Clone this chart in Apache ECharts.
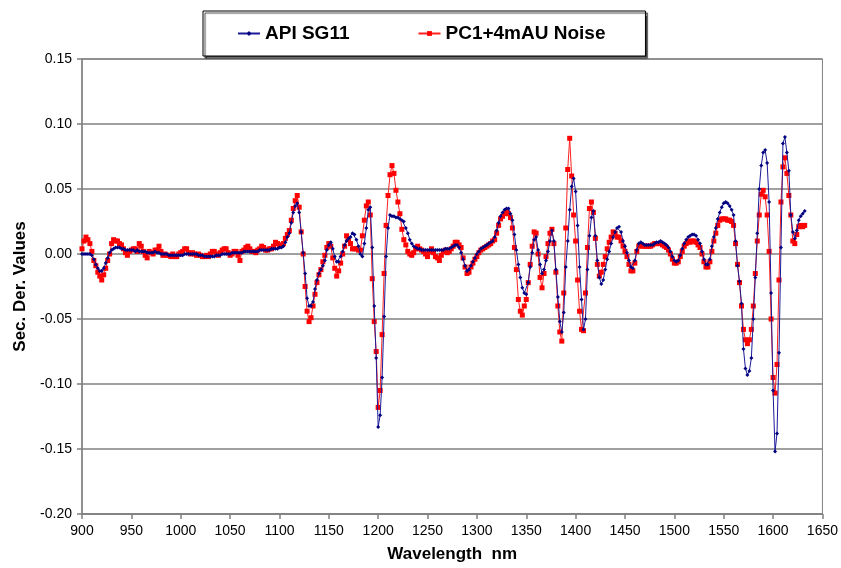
<!DOCTYPE html>
<html>
<head>
<meta charset="utf-8">
<script src="https://cdn.jsdelivr.net/npm/echarts@6/dist/echarts.min.js"></script>
<style>
html,body{margin:0;padding:0;background:#fff;}
#chart{width:841px;height:568px;}
</style>
</head>
<body>
<div id="chart"></div>
<script>
// Wavelength grid (nm), 2 nm steps from 900 to 1632
const wlStart = 900, wlStep = 2, wlCount = 367;
const wavelengths = Array.from({length: wlCount}, (_, i) => wlStart + wlStep * i);

const seriesNames = ['API SG11', 'PC1+4mAU Noise'];

// API SG11 second-derivative values
const apiSG11 = [
 0.000,0.000,0.000,0.000,0.000,-0.001,-0.004,-0.008,-0.011,-0.013,
 -0.013,-0.011,-0.007,-0.003,0.001,0.003,0.004,0.005,0.005,0.005,
 0.004,0.004,0.003,0.003,0.003,0.003,0.003,0.002,0.003,0.002,
 0.002,0.002,0.002,0.001,0.001,0.001,0.001,0.002,0.001,0.001,
 0.000,0.000,0.000,0.000,-0.001,-0.001,-0.001,-0.001,-0.001,-0.001,
 -0.001,-0.001,0.000,0.000,0.000,0.000,0.000,0.000,0.000,-0.001,
 -0.001,-0.001,-0.002,-0.002,-0.002,-0.002,-0.002,-0.002,-0.001,-0.001,
 -0.001,0.000,0.000,0.000,0.000,0.000,0.001,0.001,0.001,0.001,
 0.001,0.001,0.002,0.002,0.002,0.002,0.002,0.002,0.002,0.002,
 0.003,0.003,0.003,0.003,0.003,0.003,0.004,0.004,0.004,0.004,
 0.005,0.005,0.006,0.009,0.013,0.016,0.024,0.032,0.037,0.039,
 0.032,0.017,0.001,-0.015,-0.034,-0.040,-0.040,-0.037,-0.027,-0.020,
 -0.015,-0.012,-0.009,-0.005,0.003,0.007,0.009,0.004,-0.002,-0.006,
 -0.006,-0.002,0.002,0.007,0.010,0.012,0.013,0.016,0.015,0.011,
 0.006,0.000,-0.002,0.008,0.020,0.034,0.036,0.005,-0.040,-0.080,
 -0.133,-0.124,-0.095,-0.048,-0.002,0.020,0.030,0.029,0.029,0.028,
 0.028,0.027,0.026,0.025,0.020,0.016,0.011,0.008,0.006,0.005,
 0.004,0.004,0.003,0.003,0.003,0.003,0.003,0.003,0.003,0.003,
 0.003,0.003,0.003,0.003,0.004,0.004,0.004,0.005,0.006,0.007,
 0.007,0.005,0.001,-0.004,-0.009,-0.013,-0.012,-0.009,-0.006,-0.003,
 0.000,0.002,0.004,0.005,0.006,0.007,0.008,0.009,0.010,0.013,
 0.018,0.024,0.029,0.032,0.034,0.035,0.035,0.031,0.026,0.015,
 0.003,-0.008,-0.018,-0.026,-0.030,-0.031,-0.022,-0.010,0.001,0.011,
 0.013,0.003,-0.008,-0.015,-0.012,-0.005,0.002,0.010,0.018,0.010,
 -0.012,-0.033,-0.052,-0.060,-0.045,-0.010,0.010,0.034,0.052,0.058,
 0.048,0.022,-0.010,-0.035,-0.058,-0.050,-0.012,0.014,0.028,0.033,
 0.014,-0.005,-0.018,-0.023,-0.020,-0.012,-0.004,0.002,0.008,0.013,
 0.017,0.020,0.021,0.017,0.010,0.006,0.001,-0.005,-0.010,-0.011,
 -0.005,0.003,0.008,0.009,0.008,0.007,0.007,0.007,0.007,0.007,
 0.008,0.009,0.009,0.010,0.009,0.008,0.007,0.005,0.002,-0.002,
 -0.005,-0.006,-0.005,-0.001,0.004,0.008,0.011,0.013,0.014,0.015,
 0.015,0.014,0.011,0.008,0.002,-0.004,-0.008,-0.008,-0.004,0.006,
 0.013,0.020,0.027,0.032,0.036,0.039,0.040,0.039,0.037,0.034,
 0.030,0.010,-0.009,-0.021,-0.038,-0.073,-0.088,-0.093,-0.090,-0.080,
 -0.050,-0.018,0.016,0.050,0.068,0.078,0.080,0.070,0.040,-0.030,
 -0.105,-0.152,-0.138,-0.076,0.005,0.085,0.090,0.078,0.064,0.030,
 0.017,0.012,0.018,0.026,0.029,0.031,0.033
];

// PC1 + 4 mAU noise second-derivative values
const pc1Noise = [
 0.004,0.010,0.013,0.011,0.008,0.002,-0.005,-0.009,-0.014,-0.017,
 -0.020,-0.016,-0.011,-0.005,0.000,0.008,0.011,0.010,0.010,0.008,
 0.007,0.004,0.001,-0.001,0.002,0.003,0.004,0.004,0.002,0.008,
 0.006,0.002,-0.001,-0.003,0.002,0.001,0.000,0.003,0.003,0.006,
 0.002,-0.001,0.000,-0.001,-0.001,-0.002,0.000,-0.002,-0.002,0.000,
 0.001,0.002,0.004,0.004,0.001,0.000,0.001,0.000,-0.001,0.000,
 -0.001,-0.002,-0.002,-0.001,-0.002,0.000,0.002,0.002,0.000,-0.001,
 0.001,0.003,0.004,0.004,0.001,-0.001,0.000,0.002,0.002,-0.001,
 -0.005,0.002,0.003,0.005,0.006,0.004,0.002,0.002,0.001,0.003,
 0.004,0.006,0.005,0.003,0.003,0.004,0.004,0.006,0.009,0.008,
 0.006,0.007,0.008,0.012,0.015,0.018,0.026,0.035,0.041,0.045,
 0.036,0.017,0.000,-0.025,-0.044,-0.052,-0.049,-0.040,-0.031,-0.022,
 -0.016,-0.012,-0.006,-0.001,0.005,0.008,0.006,-0.003,-0.011,-0.017,
 -0.013,-0.007,0.000,0.006,0.014,0.011,0.008,0.004,0.004,0.004,
 0.003,0.003,0.014,0.026,0.037,0.040,0.030,-0.019,-0.052,-0.075,
 -0.118,-0.105,-0.062,-0.015,0.022,0.045,0.061,0.068,0.062,0.049,
 0.040,0.031,0.019,0.011,0.007,0.002,0.000,-0.001,0.001,0.004,
 0.006,0.004,0.003,0.002,0.000,-0.002,0.002,0.004,0.001,-0.002,
 -0.003,-0.005,-0.001,0.002,0.003,0.001,0.002,0.004,0.006,0.009,
 0.009,0.007,0.005,-0.003,-0.010,-0.015,-0.014,-0.010,-0.007,-0.004,
 -0.002,0.001,0.003,0.004,0.005,0.006,0.007,0.008,0.010,0.011,
 0.016,0.022,0.027,0.029,0.031,0.032,0.031,0.028,0.020,0.005,
 -0.012,-0.035,-0.044,-0.047,-0.040,-0.035,-0.022,-0.008,0.006,0.017,
 0.016,0.000,-0.018,-0.026,-0.015,-0.002,0.008,0.016,0.019,0.008,
 -0.014,-0.040,-0.060,-0.067,-0.030,0.020,0.065,0.089,0.060,0.030,
 0.010,-0.020,-0.044,-0.058,-0.059,-0.030,0.005,0.035,0.040,0.032,
 0.012,-0.008,-0.017,-0.014,-0.008,-0.002,0.004,0.009,0.013,0.017,
 0.016,0.013,0.013,0.010,0.006,0.002,-0.002,-0.008,-0.013,-0.013,
 -0.007,0.002,0.006,0.007,0.006,0.006,0.006,0.006,0.006,0.007,
 0.008,0.008,0.008,0.008,0.007,0.006,0.005,0.003,0.000,-0.004,
 -0.007,-0.007,-0.006,-0.002,0.002,0.006,0.008,0.010,0.009,0.010,
 0.010,0.009,0.007,0.005,0.000,-0.006,-0.010,-0.010,-0.006,0.002,
 0.010,0.016,0.022,0.026,0.027,0.027,0.027,0.026,0.026,0.025,
 0.022,0.008,-0.008,-0.022,-0.040,-0.058,-0.066,-0.069,-0.066,-0.058,
 -0.040,-0.015,0.010,0.030,0.046,0.049,0.044,0.030,0.002,-0.050,
 -0.095,-0.107,-0.085,-0.020,0.040,0.067,0.074,0.062,0.045,0.030,
 0.010,0.008,0.015,0.021,0.022,0.021,0.022
];

const xAxisTitle = 'Wavelength  nm';
const yAxisTitle = 'Sec. Der. Values';

const FONT = 'Arial, "Liberation Sans", Helvetica, sans-serif';
const pairs = vals => wavelengths.map((w, i) => [w, vals[i]]);

const chart = echarts.init(document.getElementById('chart'), null, {renderer: 'canvas'});
chart.setOption({
  animation: false,
  backgroundColor: '#ffffff',
  legend: {
    data: seriesNames,
    left: 203,
    top: 11,
    orient: 'horizontal',
    padding: [13, 40, 13, 34],
    itemGap: 68,
    itemWidth: 22,
    itemHeight: 6,
    backgroundColor: '#ffffff',
    borderColor: '#000000',
    borderWidth: 1,
    shadowColor: 'rgba(0,0,0,0.75)',
    shadowBlur: 1,
    shadowOffsetX: 2,
    shadowOffsetY: 2,
    textStyle: {fontFamily: FONT, fontSize: 19, fontWeight: 'bold', color: '#000'}
  },
  grid: {
    left: 82, right: 17, top: 59, bottom: 54,
    show: true, borderColor: '#808080', borderWidth: 1, backgroundColor: '#ffffff'
  },
  xAxis: {
    type: 'value',
    min: 900, max: 1650, interval: 50,
    name: xAxisTitle,
    nameLocation: 'middle',
    nameGap: 32,
    nameTextStyle: {fontFamily: FONT, fontSize: 17, fontWeight: 'bold', color: '#000'},
    axisLine: {show: true, onZero: false, lineStyle: {color: '#808080', width: 1.5}},
    axisTick: {show: true, length: 5, lineStyle: {color: '#808080', width: 1.5}},
    axisLabel: {fontFamily: FONT, fontSize: 14, color: '#000', margin: 10,
      formatter: v => String(Math.round(v))},
    splitLine: {show: false}
  },
  yAxis: {
    type: 'value',
    min: -0.2, max: 0.15, interval: 0.05,
    name: yAxisTitle,
    nameLocation: 'middle',
    nameRotate: 90,
    nameGap: 52,
    nameTextStyle: {fontFamily: FONT, fontSize: 17, fontWeight: 'bold', color: '#000'},
    axisLine: {show: true, onZero: false, lineStyle: {color: '#808080', width: 1.5}},
    axisTick: {show: true, length: 5, lineStyle: {color: '#808080', width: 1.5}},
    axisLabel: {fontFamily: FONT, fontSize: 14, color: '#000', margin: 10,
      formatter: v => Number(v).toFixed(2)},
    splitLine: {show: true, lineStyle: {color: '#808080', width: 1.5}}
  },
  series: [
    {
      name: seriesNames[1],
      type: 'line',
      data: pairs(pc1Noise),
      symbol: 'rect',
      symbolSize: 5,
      showSymbol: true,
      showAllSymbol: true,
      color: '#ff0000',
      lineStyle: {color: '#ff2020', width: 1},
      itemStyle: {color: '#ff0000'},
      z: 2
    },
    {
      name: seriesNames[0],
      type: 'line',
      data: pairs(apiSG11),
      symbol: 'diamond',
      symbolSize: 4,
      showSymbol: true,
      showAllSymbol: true,
      color: '#000080',
      lineStyle: {color: '#1a1a99', width: 1},
      itemStyle: {color: '#000080'},
      z: 3
    }
  ]
});
</script>
</body>
</html>
